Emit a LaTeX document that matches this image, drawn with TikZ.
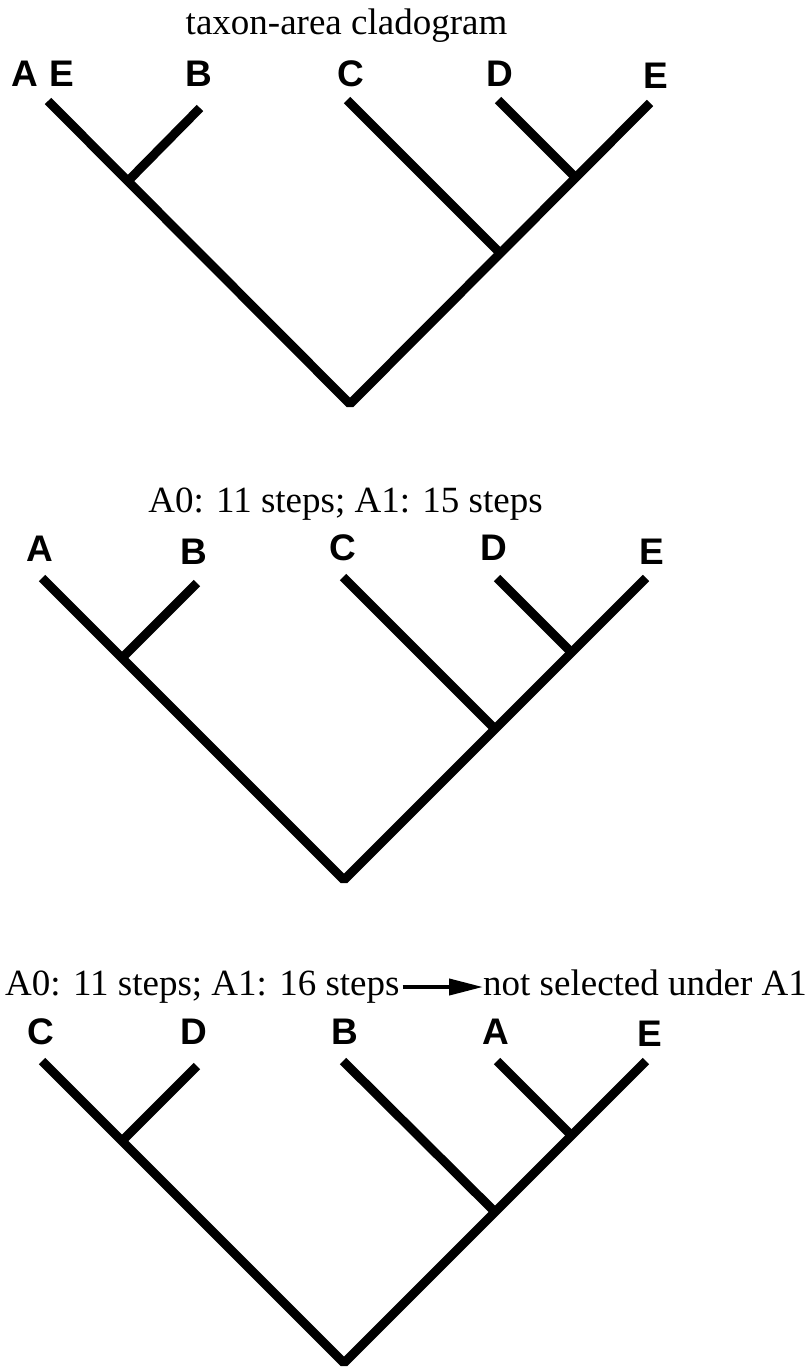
\documentclass[tikz,border=0pt]{standalone}
\usepackage{fontspec}
\setmainfont{Liberation Serif}
\newfontfamily\lblfont{Liberation Sans}
\usetikzlibrary{arrows.meta}
\begin{document}
\begin{tikzpicture}[x=1pt,y=-1pt,
  branch/.style={line width=9pt, line join=bevel},
  taxon/.style={font=\lblfont\bfseries\fontsize{37}{40}\selectfont, inner sep=0pt, anchor=base},
  caption/.style={font=\fontsize{37}{40}\selectfont, inner sep=0pt, anchor=base}]
\useasboundingbox (0,0) rectangle (811,1367);

% ---------- tree 1 ----------
\node[caption] (t1) at (346.5,35) {taxon-area cladogram};
\node[taxon] (la1) at (25,87) {A};
\node[taxon] (le1a) at (61.5,87) {E};
\node[taxon] (lb1) at (199,87) {B};
\node[taxon] (lc1) at (351,87) {C};
\node[taxon] (ld1) at (500,87) {D};
\node[taxon] (le1) at (656,89) {E};
\coordinate (a1) at (48,101);
\coordinate (b1) at (200,108);
\coordinate (ab1) at (128,181);
\coordinate (c1) at (347,100);
\coordinate (ce1) at (500,253);
\coordinate (d1) at (498,100);
\coordinate (de1) at (575,177);
\coordinate (e1) at (650,103);
\coordinate (r1) at (350,404);
\draw[branch] (a1) -- (r1) -- (e1);
\draw[branch] (b1) -- (ab1);
\draw[branch] (c1) -- (ce1);
\draw[branch] (d1) -- (de1);

% ---------- tree 2 ----------
\node[caption] (t2) at (345.5,512) {A0: 11 steps; A1: 15 steps};
\node[taxon] (la2) at (40,561) {A};
\node[taxon] (lb2) at (194,564) {B};
\node[taxon] (lc2) at (343,560) {C};
\node[taxon] (ld2) at (494,560) {D};
\node[taxon] (le2) at (652,564) {E};
\coordinate (a2) at (42,578);
\coordinate (b2) at (197,583);
\coordinate (ab2) at (122,658);
\coordinate (c2) at (343,577);
\coordinate (ce2) at (495,729);
\coordinate (d2) at (497,578);
\coordinate (de2) at (571.5,652.5);
\coordinate (e2) at (646,578);
\coordinate (r2) at (344,880);
\draw[branch] (a2) -- (r2) -- (e2);
\draw[branch] (b2) -- (ab2);
\draw[branch] (c2) -- (ce2);
\draw[branch] (d2) -- (de2);

% ---------- tree 3 ----------
\node[caption, anchor=base west] (t3) at (5,995) {A0: 11 steps; A1: 16 steps};
\node[caption, anchor=base west] (ns) at (483,995) {not selected under A1};
\draw[line width=4pt, -{Triangle[length=34pt,width=16pt]}]
  ([yshift=8pt,xshift=3pt]t3.base east) -- ([yshift=8pt]ns.base west);
\node[taxon] (lc3) at (40.5,1044) {C};
\node[taxon] (ld3) at (193.5,1044) {D};
\node[taxon] (lb3) at (345,1044) {B};
\node[taxon] (la3) at (496,1044) {A};
\node[taxon] (le3) at (650,1046) {E};
\coordinate (c3) at (42,1061);
\coordinate (d3) at (197,1066);
\coordinate (cd3) at (122,1141);
\coordinate (b3) at (343,1061);
\coordinate (be3) at (495,1212);
\coordinate (a3) at (497,1061);
\coordinate (ae3) at (571.5,1135.5);
\coordinate (e3) at (646,1061);
\coordinate (r3) at (344,1363);
\draw[branch] (c3) -- (r3) -- (e3);
\draw[branch] (d3) -- (cd3);
\draw[branch] (b3) -- (be3);
\draw[branch] (a3) -- (ae3);
\end{tikzpicture}
\end{document}
